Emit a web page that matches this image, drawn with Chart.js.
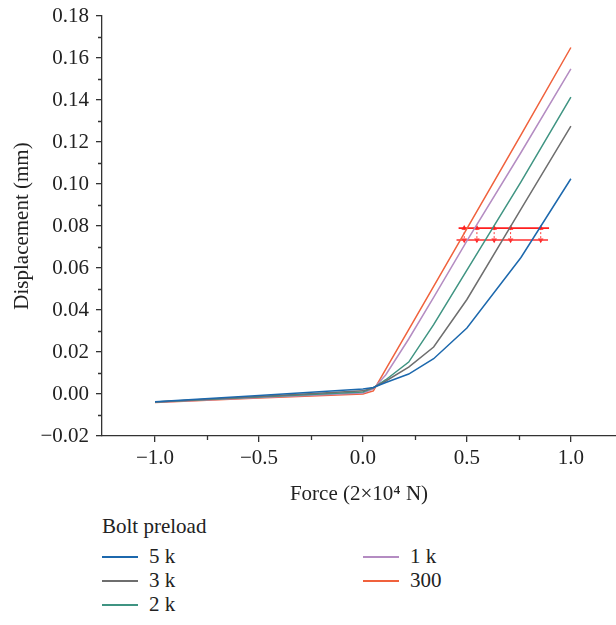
<!DOCTYPE html>
<html>
<head>
<meta charset="utf-8">
<script src="https://cdn.jsdelivr.net/npm/chart.js@4.4.1/dist/chart.umd.min.js"></script>
<style>
  html, body { margin: 0; padding: 0; background: #fff; overflow: hidden; }
  #wrap { position: relative; width: 616px; height: 625px; overflow: hidden; font-family: "Liberation Serif", "DejaVu Serif", serif; color: #222; }
  #box { position: absolute; left: 0; top: 0; width: 620px; height: 510px; }
  #legend { position: absolute; left: 0; top: 510px; width: 616px; height: 115px; }
  .ltitle { position: absolute; left: 102px; top: 4px; font-size: 21px; line-height: 24px; }
  .item { position: absolute; font-size: 21px; line-height: 24px; height: 24px; width: 200px; }
  .item .sw { position: absolute; left: 0; top: 12px; width: 36px; height: 2px; }
  .item .tx { position: absolute; left: 47px; top: 0; white-space: nowrap; }
</style>
</head>
<body>
<div id="wrap">
  <div id="box"><canvas id="c" width="620" height="510"></canvas></div>
  <div id="legend"></div>
</div>
<script>
// ---- data ----
const forceX = [-1.0, -0.5, 0.0, 0.05, 0.11, 0.22, 0.34, 0.5, 0.76, 1.0];
const seriesNames = ['5 k', '3 k', '2 k', '1 k', '300'];
const disp5k  = [-0.0037, -0.0007, 0.0024, 0.0031, 0.0055, 0.0095, 0.0168, 0.0314, 0.0650, 0.1025];
const disp3k  = [-0.0038, -0.0012, 0.0015, 0.0030, 0.0062, 0.0128, 0.0224, 0.0450, 0.0880, 0.1276];
const disp2k  = [-0.0038, -0.0014, 0.0010, 0.0029, 0.0068, 0.0152, 0.0330, 0.0590, 0.1010, 0.1414];
const disp1k  = [-0.0039, -0.0017, 0.0005, 0.0024, 0.0092, 0.0262, 0.0460, 0.0729, 0.1150, 0.1548];
const disp300 = [-0.0040, -0.0019, 0.0000, 0.0015, 0.0118, 0.0307, 0.0513, 0.0788, 0.1234, 0.1650];
const seriesColors = ['#1c68ad', '#6e6e6e', '#3f9482', '#b48cc2', '#f0613c'];

// annotation: two horizontal reference lines and the double arrows between them
const upperLineX = [0.46, 0.895];
const upperLineY = 0.0790;
const lowerLineX = [0.45, 0.89];
const lowerLineY = 0.0733;
const arrowX = [0.487, 0.548, 0.631, 0.710, 0.855];

// tick labels
const xMajor = [-1.0, -0.5, 0.0, 0.5, 1.0];
const xMinor = [-0.75, -0.25, 0.25, 0.75];
const yMajor = [-0.02, 0.00, 0.02, 0.04, 0.06, 0.08, 0.10, 0.12, 0.14, 0.16, 0.18];
const yMinor = [-0.01, 0.01, 0.03, 0.05, 0.07, 0.09, 0.11, 0.13, 0.15, 0.17];

const FAMILY = '"Liberation Serif", "DejaVu Serif", serif';
const TICKFONT = { family: FAMILY, size: 21 };
const TITLEFONT = { family: FAMILY, size: 21 };
const AXIS = '#333';
const fmt = (v, d) => v.toFixed(d).replace('-', '\u2212');

const allSeries = [disp5k, disp3k, disp2k, disp1k, disp300];
const datasets = allSeries.map((ys, i) => ({
  label: seriesNames[i],
  data: forceX.map((x, j) => ({ x: x, y: ys[j] })),
  borderColor: seriesColors[i],
  backgroundColor: seriesColors[i],
  borderWidth: 1.5,
  showLine: true,
  pointRadius: 0,
  tension: 0
}));

datasets.push({
  label: '_upper',
  data: upperLineX.map(x => ({ x: x, y: upperLineY })),
  borderColor: '#ff1f1f', borderWidth: 1.6, showLine: true, pointRadius: 0
});
datasets.push({
  label: '_lower',
  data: lowerLineX.map(x => ({ x: x, y: lowerLineY })),
  borderColor: 'rgba(255,60,60,0.8)', borderWidth: 2, showLine: true, pointRadius: 0
});
arrowX.forEach(x => {
  datasets.push({
    label: '_arrow',
    data: [{ x: x, y: upperLineY }, { x: x, y: lowerLineY }],
    borderColor: 'rgba(255,40,40,0.9)',
    backgroundColor: '#ff2020',
    borderWidth: 1,
    borderDash: [2, 2],
    showLine: true,
    pointStyle: 'triangle',
    pointRadius: 3.2,
    pointBorderWidth: 0,
    rotation: ctx => (ctx.dataIndex === 0 ? 0 : 180)
  });
});

const minorTicks = {
  id: 'minorTicks',
  afterDraw(chart) {
    const { ctx, scales, chartArea } = chart;
    ctx.save();
    ctx.strokeStyle = AXIS;
    ctx.lineWidth = 1.3;
    ctx.beginPath();
    xMinor.forEach(v => {
      const px = Math.round(scales.x.getPixelForValue(v)) + 0.5;
      ctx.moveTo(px, chartArea.bottom);
      ctx.lineTo(px, chartArea.bottom + 4);
    });
    yMinor.forEach(v => {
      const py = Math.round(scales.y.getPixelForValue(v)) + 0.5;
      ctx.moveTo(chartArea.left, py);
      ctx.lineTo(chartArea.left - 4, py);
    });
    ctx.stroke();
    ctx.restore();
  }
};

new Chart(document.getElementById('c'), {
  type: 'scatter',
  data: { datasets: datasets },
  plugins: [minorTicks],
  options: {
    responsive: false,
    animation: false,
    layout: { padding: { top: 16, right: 0, left: 0, bottom: 0 } },
    plugins: { legend: { display: false }, tooltip: { enabled: false } },
    scales: {
      x: {
        type: 'linear',
        min: -1.255, max: 1.217,
        afterBuildTicks: s => { s.ticks = xMajor.map(v => ({ value: v })); },
        afterFit: s => { s.height = 74; s.paddingLeft = 0; s.paddingRight = 0; },
        grid: { display: true, drawOnChartArea: false, tickLength: 6, color: AXIS, tickColor: AXIS, lineWidth: 1.3 },
        border: { display: true, color: AXIS, width: 1.3 },
        ticks: { autoSkip: false, maxRotation: 0, padding: 4, color: '#222', font: TICKFONT, callback: v => fmt(v, 1) },
        title: { display: true, text: 'Force (2\u00d710\u2074 N)', color: '#222', font: TITLEFONT, padding: { top: 4, bottom: 3 } }
      },
      y: {
        type: 'linear',
        min: -0.02, max: 0.18,
        afterBuildTicks: s => { s.ticks = yMajor.map(v => ({ value: v })); },
        afterFit: s => { s.width = 102; s.paddingTop = 0; s.paddingBottom = 0; s.paddingLeft = 0; s.paddingRight = 0; },
        grid: { display: true, drawOnChartArea: false, tickLength: 6, color: AXIS, tickColor: AXIS, lineWidth: 1.3 },
        border: { display: true, color: AXIS, width: 1.3 },
        ticks: { autoSkip: false, padding: 7, color: '#222', font: TICKFONT, callback: v => fmt(v, 2) },
        title: { display: true, text: 'Displacement (mm)', color: '#222', font: TITLEFONT, padding: { top: 10, bottom: 4 } }
      }
    }
  }
});

// HTML legend with two columns, built from the series arrays
const legend = document.getElementById('legend');
const t = document.createElement('div');
t.className = 'ltitle';
t.textContent = 'Bolt preload';
legend.appendChild(t);
const colLeft = [102, 363];
seriesNames.forEach((name, i) => {
  const col = i < 3 ? 0 : 1;
  const row = i < 3 ? i : i - 3;
  const it = document.createElement('div');
  it.className = 'item';
  it.style.left = colLeft[col] + 'px';
  it.style.top = (34 + row * 24) + 'px';
  const sw = document.createElement('div');
  sw.className = 'sw';
  sw.style.background = seriesColors[i];
  const tx = document.createElement('div');
  tx.className = 'tx';
  tx.textContent = name;
  it.appendChild(sw);
  it.appendChild(tx);
  legend.appendChild(it);
});
</script>
</body>
</html>
